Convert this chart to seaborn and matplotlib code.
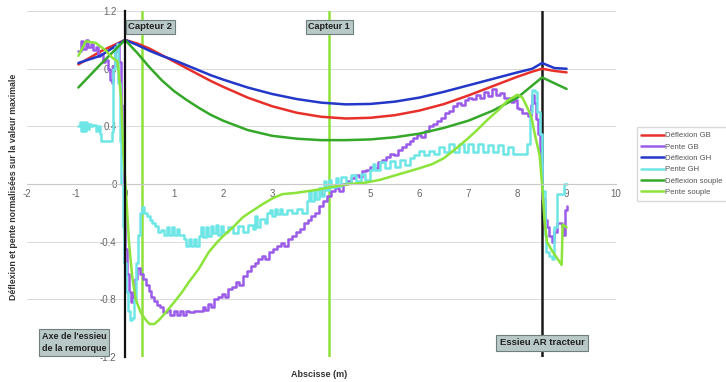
import numpy as np
import pandas as pd
import matplotlib
matplotlib.use("Agg")
import matplotlib.pyplot as plt
from matplotlib.ticker import MultipleLocator
import seaborn as sns

# deflection curves (smooth)
x_defl_gb = [-0.95, -0.5, 0, 0.25, 0.5, 0.75, 1, 1.25, 1.5, 1.75, 2, 2.5, 3, 3.5, 4, 4.5,
             5, 5.5, 6, 6.5, 7, 7.5, 8, 8.3, 8.5, 8.75, 9]
y_defl_gb = [0.83, 0.92, 1.0, 0.975, 0.94, 0.895, 0.85, 0.805, 0.76, 0.715, 0.675, 0.60, 0.54,
             0.495, 0.467, 0.455, 0.46, 0.478, 0.51, 0.555, 0.615, 0.68, 0.745, 0.78, 0.80, 0.785, 0.775]
x_defl_gh = x_defl_gb
y_defl_gh = [0.84, 0.89, 1.0, 0.965, 0.925, 0.89, 0.86, 0.825, 0.79, 0.755, 0.725, 0.67, 0.625,
             0.59, 0.565, 0.553, 0.556, 0.572, 0.60, 0.64, 0.685, 0.73, 0.775, 0.80, 0.84, 0.805, 0.80]
x_defl_souple = [-0.95, -0.5, 0, 0.25, 0.5, 0.75, 1, 1.25, 1.5, 1.75, 2, 2.5, 3, 3.5, 4, 4.5,
                 5, 5.5, 6, 6.5, 7, 7.5, 8, 8.5, 9]
y_defl_souple = [0.67, 0.83, 1.0, 0.91, 0.81, 0.72, 0.645, 0.585, 0.53, 0.48, 0.44, 0.375, 0.335,
                 0.315, 0.305, 0.305, 0.31, 0.325, 0.35, 0.39, 0.44, 0.51, 0.60, 0.74, 0.66]

# slope curves (staircase)
x_pente_gb = [-0.95, -0.9, -0.85, -0.8, -0.75, -0.7, -0.65, -0.6, -0.55, -0.5, -0.45, -0.4, -0.35,
              -0.31, -0.27, -0.24, -0.2, -0.16, -0.12, -0.09, -0.06, -0.03, 0.0, 0.04, 0.08, 0.12,
              0.16, 0.2, 0.24, 0.3, 0.36, 0.42, 0.48, 0.54, 0.6, 0.66, 0.72, 0.78, 0.86, 0.92, 1.0,
              1.06, 1.12, 1.18, 1.24, 1.3, 1.4, 1.5, 1.58, 1.64, 1.7, 1.76, 1.82, 1.9, 1.98, 2.04,
              2.1, 2.18, 2.26, 2.32, 2.4, 2.48, 2.56, 2.64, 2.72, 2.8, 2.86, 2.94, 3.02, 3.1, 3.18,
              3.24, 3.32, 3.4, 3.48, 3.56, 3.64, 3.72, 3.8, 3.88, 3.96, 4.04, 4.12, 4.2, 4.28, 4.36,
              4.44, 4.52, 4.6, 4.68, 4.76, 4.84, 4.92, 5.0, 5.08, 5.16, 5.24, 5.32, 5.4, 5.48, 5.56,
              5.64, 5.72, 5.8, 5.88, 5.96, 6.04, 6.12, 6.2, 6.28, 6.36, 6.44, 6.52, 6.6, 6.68, 6.76,
              6.84, 6.92, 7.0, 7.08, 7.16, 7.24, 7.32, 7.4, 7.48, 7.56, 7.64, 7.72, 7.8, 7.86, 7.92,
              7.98, 8.04, 8.1, 8.16, 8.22, 8.27, 8.3, 8.34, 8.38, 8.42, 8.46, 8.5, 8.55, 8.6, 8.65,
              8.7, 8.75, 8.8, 8.86, 8.9, 8.93, 8.96, 9.0]
y_pente_gb = [0.92, 0.99, 0.94, 1.0, 0.95, 0.97, 0.93, 0.95, 0.89, 0.90, 0.85, 0.86, 0.80,
              0.72, 0.70, 0.82, 0.92, 0.98, 0.85, 0.55, 0.2, -0.15, -0.45, -0.62, -0.75, -0.82,
              -0.75, -0.66, -0.58, -0.62, -0.66, -0.70, -0.74, -0.78, -0.81, -0.84, -0.85, -0.89,
              -0.87, -0.91, -0.88, -0.91, -0.88, -0.91, -0.88, -0.89, -0.88, -0.88, -0.85, -0.87,
              -0.83, -0.85, -0.80, -0.78, -0.76, -0.78, -0.73, -0.71, -0.68, -0.70, -0.64, -0.60,
              -0.57, -0.55, -0.52, -0.50, -0.52, -0.47, -0.45, -0.43, -0.41, -0.43, -0.38, -0.36,
              -0.33, -0.31, -0.27, -0.25, -0.22, -0.20, -0.15, -0.12, -0.08, -0.05, -0.03, -0.05,
              0.0, 0.02, 0.04, 0.06, 0.05, 0.09, 0.10, 0.12, 0.11, 0.15, 0.17, 0.19, 0.21, 0.20,
              0.24, 0.26, 0.28, 0.30, 0.32, 0.34, 0.33, 0.37, 0.40, 0.42, 0.44, 0.46, 0.49, 0.51,
              0.54, 0.56, 0.55, 0.58, 0.60, 0.59, 0.62, 0.60, 0.64, 0.61, 0.66, 0.62, 0.63, 0.60,
              0.60, 0.57, 0.58, 0.53, 0.52, 0.49, 0.49, 0.47, 0.55, 0.62, 0.56, 0.45, 0.35, 0.15,
              -0.1, -0.25, -0.30, -0.36, -0.40, -0.33, -0.27, -0.27, -0.30, -0.35, -0.18, -0.15]

x_pente_gh = [-0.95, -0.92, -0.89, -0.86, -0.83, -0.8, -0.77, -0.74, -0.7, -0.65, -0.6, -0.55,
              -0.5, -0.48, -0.3, -0.27, -0.24, -0.21, -0.17, -0.14, -0.11, -0.08, -0.05, -0.02,
              0.02, 0.06, 0.1, 0.14, 0.18, 0.22, 0.26, 0.3, 0.34, 0.38, 0.44, 0.5, 0.56, 0.62,
              0.68, 0.74, 0.8, 0.85, 0.9, 0.95, 1.0, 1.05, 1.1, 1.2, 1.25, 1.3, 1.35, 1.4, 1.45,
              1.5, 1.55, 1.6, 1.65, 1.7, 1.75, 1.8, 1.85, 1.9, 1.95, 2.0, 2.1, 2.2, 2.3, 2.4, 2.5,
              2.6, 2.65, 2.7, 2.75, 2.85, 2.9, 2.95, 3.0, 3.05, 3.1, 3.15, 3.2, 3.3, 3.4, 3.5,
              3.6, 3.7, 3.75, 3.8, 3.85, 3.9, 3.95, 4.0, 4.05, 4.1, 4.15, 4.2, 4.3, 4.35, 4.4,
              4.5, 4.6, 4.7, 4.8, 4.9, 5.0, 5.05, 5.1, 5.2, 5.3, 5.4, 5.5, 5.6, 5.7, 5.8, 5.9,
              6.0, 6.1, 6.2, 6.3, 6.4, 6.5, 6.6, 6.7, 6.8, 6.9, 7.0, 7.1, 7.2, 7.3, 7.4, 7.5,
              7.6, 7.7, 7.8, 7.9, 8.0, 8.15, 8.2, 8.25, 8.3, 8.36, 8.4, 8.45, 8.5, 8.55, 8.58,
              8.65, 8.7, 8.74, 8.8, 8.9, 8.95, 9.0]
y_pente_gh = [0.40, 0.43, 0.37, 0.43, 0.37, 0.43, 0.38, 0.42, 0.40, 0.41, 0.37, 0.40,
              0.35, 0.30, 0.30, 0.36, 0.80, 0.95, 0.97, 0.7, 0.3, 0.0, -0.3, -0.55,
              -0.75, -0.88, -0.94, -0.93, -0.8, -0.55, -0.35, -0.2, -0.16, -0.20, -0.22, -0.25,
              -0.27, -0.29, -0.33, -0.32, -0.35, -0.30, -0.35, -0.30, -0.35, -0.31, -0.35, -0.38,
              -0.43, -0.38, -0.43, -0.38, -0.43, -0.36, -0.30, -0.37, -0.30, -0.36, -0.29, -0.34,
              -0.28, -0.35, -0.29, -0.33, -0.30, -0.34, -0.29, -0.33, -0.28, -0.31, -0.22, -0.30,
              -0.24, -0.27, -0.20, -0.18, -0.22, -0.17, -0.21, -0.17, -0.21, -0.18, -0.20, -0.17,
              -0.20, -0.12, -0.05, -0.12, -0.04, -0.10, -0.03, -0.08, 0.02, -0.04, 0.03, -0.02,
              0.04, -0.01, 0.05, 0.01, 0.06, 0.02, 0.07, 0.03, 0.10, 0.14, 0.10, 0.15, 0.11, 0.16,
              0.12, 0.17, 0.13, 0.18, 0.20, 0.23, 0.20, 0.23, 0.21, 0.26, 0.22, 0.28, 0.22, 0.28,
              0.22, 0.28, 0.22, 0.28, 0.22, 0.27, 0.22, 0.27, 0.21, 0.26, 0.21, 0.21, 0.21, 0.28,
              0.50, 0.65, 0.64, 0.50, 0.35, -0.05, -0.35, -0.47, -0.50, -0.52, -0.30, -0.07,
              -0.07, 0.0, 0.0]

x_pente_souple = [-0.95, -0.8, -0.6, -0.4, -0.27, -0.15, -0.08, -0.03, 0.02, 0.08, 0.15, 0.22,
                  0.32, 0.42, 0.5, 0.6, 0.7, 0.83, 1.0, 1.16, 1.3, 1.5, 1.71, 1.86, 2.0, 2.2,
                  2.4, 2.53, 2.8, 3.0, 3.2, 3.5, 3.9, 4.2, 4.57, 4.9, 5.2, 5.6, 6.0, 6.27, 6.5,
                  6.76, 7.0, 7.16, 7.4, 7.63, 7.8, 8.0, 8.1, 8.2, 8.28, 8.35, 8.45, 8.5, 8.55,
                  8.6, 8.7, 8.8, 8.9, 8.92, 9.0]
y_pente_souple = [0.89, 0.99, 0.98, 0.93, 0.88, 0.85, 0.6, 0.2, -0.05, -0.4, -0.65, -0.80,
                  -0.89, -0.94, -0.97, -0.97, -0.94, -0.89, -0.82, -0.75, -0.68, -0.59, -0.47,
                  -0.41, -0.36, -0.30, -0.23, -0.20, -0.14, -0.10, -0.07, -0.06, -0.04, -0.02,
                  0.0, 0.01, 0.03, 0.07, 0.11, 0.14, 0.18, 0.25, 0.32, 0.37, 0.45, 0.52, 0.58,
                  0.62, 0.60, 0.53, 0.47, 0.35, 0.20, 0.0, -0.25, -0.40, -0.46, -0.51, -0.56,
                  -0.28, -0.30]

# sensor / axle positions
x_capteur2 = 0.35
x_capteur1 = 4.16
x_essieu_tracteur = 8.5

sns.set_style("white")
plt.rcParams["font.family"] = ["Liberation Sans", "DejaVu Sans"]

fig = plt.figure(figsize=(7.26, 3.82), dpi=100)
ax = fig.add_axes([0.037, 0.065, 0.811, 0.906])

ax.axvline(x_capteur2, color="#8ee03a", lw=1.8, zorder=1)
ax.axvline(x_capteur1, color="#8ee03a", lw=1.8, zorder=1)
ax.axvline(x_essieu_tracteur, color="#1a1a1a", lw=1.8, zorder=1)

series = [
    ("Déflexion GB", x_defl_gb, y_defl_gb, "#e8302a", None),
    ("Pente GB", x_pente_gb, y_pente_gb, "#9a5ce8", "steps-post"),
    ("Déflexion GH", x_defl_gh, y_defl_gh, "#2338c8", None),
    ("Pente GH", x_pente_gh, y_pente_gh, "#6fe6e6", "steps-post"),
    ("Déflexion souple", x_defl_souple, y_defl_souple, "#35a82a", None),
    ("Pente souple", x_pente_souple, y_pente_souple, "#8ce33a", None),
]
for name, xs, ys, col, ds in series:
    df = pd.DataFrame({"x": xs, "y": ys})
    kw = {"drawstyle": ds} if ds else {}
    sns.lineplot(data=df, x="x", y="y", ax=ax, color=col, lw=1.8, sort=False,
                 estimator=None, label=name, zorder=2, **kw)

ax.set_xlim(-2, 10)
ax.set_ylim(-1.2, 1.2)
ax.set_xlabel("")
ax.set_ylabel("")

# axes crossing at the origin
for s in ["top", "right"]:
    ax.spines[s].set_visible(False)
ax.spines["left"].set_position(("data", 0))
ax.spines["bottom"].set_position(("data", 0))
ax.spines["left"].set_color("#111111")
ax.spines["left"].set_linewidth(1.6)
ax.spines["left"].set_zorder(3)
ax.spines["bottom"].set_color("#c8c8c8")
ax.spines["bottom"].set_linewidth(0.8)

ax.xaxis.set_major_locator(MultipleLocator(1))
ax.yaxis.set_major_locator(MultipleLocator(0.4))
ax.yaxis.set_minor_locator(MultipleLocator(0.4 / 6))
ax.tick_params(axis="y", which="major", direction="inout", length=6, width=1.2,
               color="#111111", labelsize=7, labelcolor="#666666", pad=3)
ax.tick_params(axis="y", which="minor", direction="inout", length=5, width=1.0, color="#111111")
ax.tick_params(axis="x", which="major", direction="inout", length=3, width=0.6,
               color="#c8c8c8", labelsize=7, labelcolor="#666666", pad=2)
ax.yaxis.set_major_formatter(plt.FuncFormatter(lambda v, p: f"{v:g}"))
ax.xaxis.set_major_formatter(plt.FuncFormatter(lambda v, p: f"{v:g}"))
ax.yaxis.grid(True, color="#dadada", lw=0.7)
ax.xaxis.grid(False)

box = dict(boxstyle="square,pad=0.3", facecolor="#b8c9c7", edgecolor="#6f7f7d", lw=0.8)
ax.text(0.07, 1.09, "Capteur 2", fontsize=6.8, fontweight="bold", ha="left", va="center",
        bbox=box, zorder=5, color="#222222")
ax.text(x_capteur1, 1.09, "Capteur 1", fontsize=6.5, fontweight="bold", ha="center",
        va="center", bbox=box, zorder=5, color="#222222")
ax.text(-1.7, -1.1, "Axe de l'essieu\nde la remorque", fontsize=6.5, fontweight="bold",
        ha="left", va="center", bbox=box, zorder=5, color="#222222", linespacing=1.5)
ax.text(x_essieu_tracteur, -1.1, "Essieu AR tracteur", fontsize=6.8, fontweight="bold",
        ha="center", va="center", bbox=dict(boxstyle="square,pad=0.35", facecolor="#b8c9c7",
                                            edgecolor="#6f7f7d", lw=0.8),
        zorder=5, color="#222222")

fig.text(0.018, 0.51, "Déflexion et pente normalisées sur la valeur maximale", rotation=90,
         ha="center", va="center", fontsize=6.3, fontweight="bold", color="#333333")
fig.text(0.44, 0.02, "Abscisse (m)", ha="center", va="center", fontsize=6.5,
         fontweight="bold", color="#333333")

ax.get_legend().remove()
handles, labels = ax.get_legend_handles_labels()
leg = fig.legend(handles, labels, loc="upper left", bbox_to_anchor=(0.877, 0.667),
                 fontsize=5.6, frameon=True, fancybox=False, edgecolor="#d0d0d0",
                 handlelength=2.9, handletextpad=0.1, labelspacing=0.5, borderpad=0.6,
                 borderaxespad=0)
for t in leg.get_texts():
    t.set_color("#555555")

fig.savefig("out.png", dpi=100)
